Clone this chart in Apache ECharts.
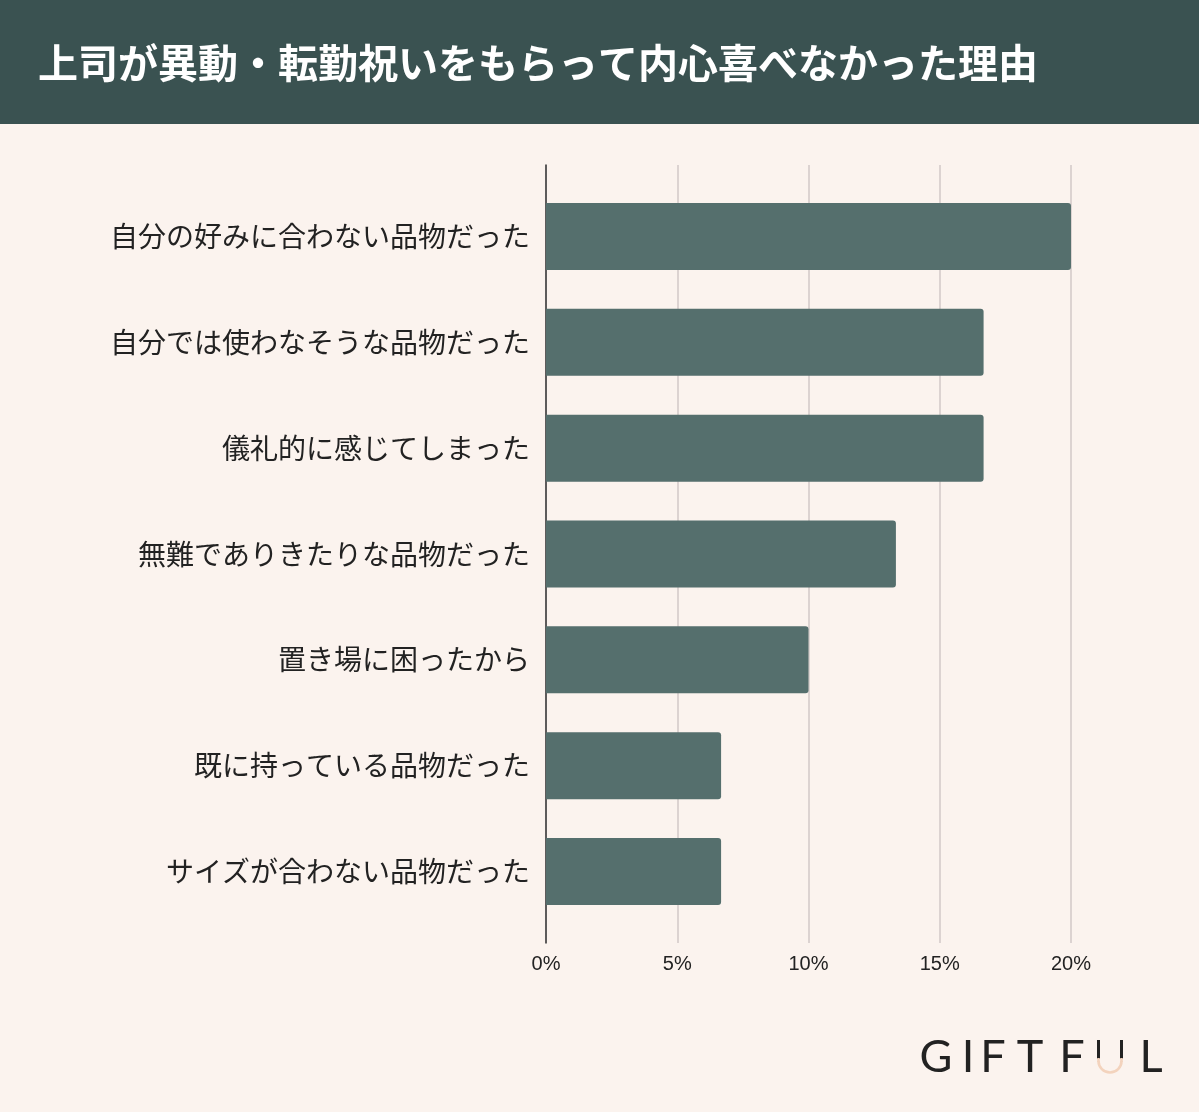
<!DOCTYPE html>
<html><head><meta charset="utf-8">
<script src="https://cdn.jsdelivr.net/npm/echarts@6/dist/echarts.min.js"></script>
<style>html,body{margin:0;padding:0;background:#fbf3ee;}#c{width:1199px;height:1112px;}</style>
</head><body><div id="c"></div>
<script>
const titleText = '上司が異動・転勤祝いをもらって内心喜べなかった理由';
const categories = ['自分の好みに合わない品物だった','自分では使わなそうな品物だった','儀礼的に感じてしまった','無難でありきたりな品物だった','置き場に困ったから','既に持っている品物だった','サイズが合わない品物だった'];
const values = [20, 16.67, 16.67, 13.33, 10, 6.67, 6.67];
const logoLetters = ['G','I','F','T','F','L'];

const chart = echarts.init(document.getElementById('c'), null, {renderer:'canvas'});
const logoX = [936, 968, 993, 1030, 1072, 1151];
const logo = logoLetters.map((ch, i) => ({
  type: 'text', x: logoX[i], y: 1057, z: 10,
  style: { text: ch, font: '400 45px Lato, "DejaVu Sans"', fill: '#222', align: 'center', verticalAlign: 'middle' }
}));
// the two-tone U of the logo
logo.push(
  { type: 'line', z: 10, shape: { x1: 1098.5, y1: 1040, x2: 1098.5, y2: 1059 }, style: { stroke: '#222', lineWidth: 3 } },
  { type: 'line', z: 10, shape: { x1: 1121.5, y1: 1040, x2: 1121.5, y2: 1059 }, style: { stroke: '#222', lineWidth: 3 } },
  { type: 'arc', z: 10, shape: { cx: 1110, cy: 1061, r: 11.5, startAngle: 0, endAngle: Math.PI }, style: { stroke: '#f3d3bd', lineWidth: 2.6, fill: null } },
  { type: 'line', z: 10, shape: { x1: 1098.5, y1: 1058, x2: 1098.5, y2: 1062 }, style: { stroke: '#f3d3bd', lineWidth: 2.6 } },
  { type: 'line', z: 10, shape: { x1: 1121.5, y1: 1058, x2: 1121.5, y2: 1062 }, style: { stroke: '#f3d3bd', lineWidth: 2.6 } }
);
chart.setOption({
  backgroundColor: '#fbf3ee',
  animation: false,
  graphic: [
    { type: 'rect', left: 0, top: 0, shape: { width: 1199, height: 124 }, style: { fill: '#3a5251' }, z: 0 },
    { type: 'text', x: 38, y: 63, z: 5, style: { text: titleText, font: 'bold 40px "Noto Sans CJK JP"', fill: '#ffffff', verticalAlign: 'middle' } }
  ].concat(logo),
  grid: [
    { left: 546, right: 128, top: 183.6, bottom: 187.6 },
    { left: 546, right: 128, top: 165, bottom: 169 }
  ],
  xAxis: [
    { gridIndex: 0, type: 'value', min: 0, max: 20, show: false },
    { gridIndex: 1, type: 'value', min: 0, max: 20, interval: 5,
      axisLine: { show: false }, axisTick: { show: false },
      splitLine: { show: true, lineStyle: { color: '#d2c9c7', width: 1.5 } },
      axisLabel: { formatter: '{value}%', fontSize: 20, color: '#222', margin: 11, fontFamily: '"Liberation Sans", Arial' } }
  ],
  yAxis: [
    { gridIndex: 0, type: 'category', data: categories, inverse: true,
      axisLine: { show: false }, axisTick: { show: false }, splitLine: { show: false },
      axisLabel: { fontSize: 28, color: '#222', margin: 16, fontFamily: '"Noto Sans CJK JP"' } },
    { gridIndex: 1, type: 'value', min: 0, max: 1,
      axisLine: { show: true, lineStyle: { color: '#333', width: 1.5 } },
      axisTick: { show: false }, axisLabel: { show: false }, splitLine: { show: false } }
  ],
  series: [{
    type: 'bar', xAxisIndex: 0, yAxisIndex: 0, data: values, barWidth: 67,
    itemStyle: { color: '#556f6d', borderRadius: [0, 3, 3, 0] }, z: 3
  }]
});
</script></body></html>
